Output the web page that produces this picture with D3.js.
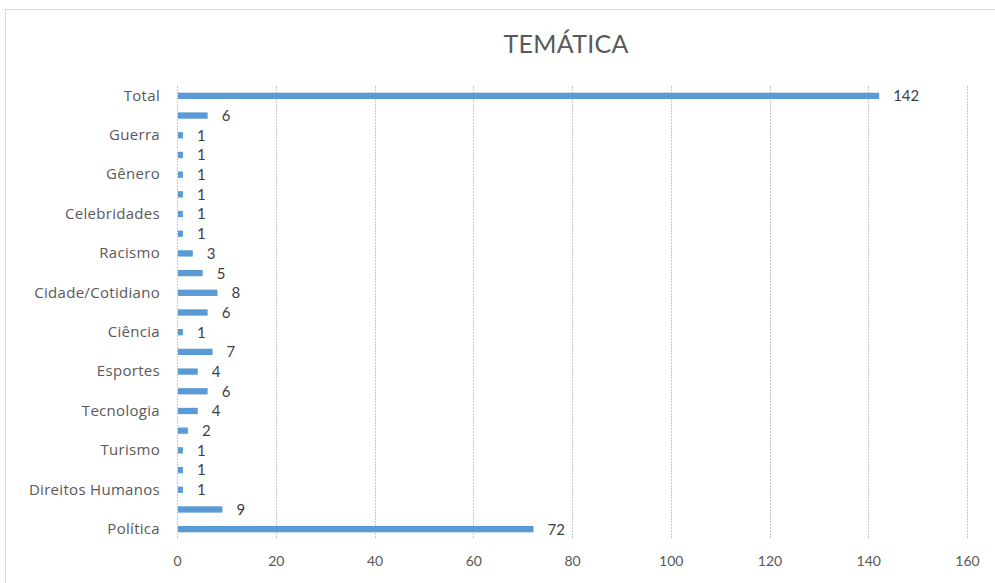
<!DOCTYPE html>
<html>
<head>
<meta charset="utf-8">
<script src="https://cdn.jsdelivr.net/npm/d3@7"></script>
<style>
  html, body { margin: 0; padding: 0; background: #fff; }
  svg { display: block; font-family: Lato, "Open Sans", sans-serif; }
</style>
</head>
<body>
<svg id="chart" width="995" height="583"></svg>
<script>
// Rows listed top to bottom; only every other category name is printed on the axis.
const categories = [
  "Total", "", "Guerra", "", "Gênero", "", "Celebridades", "", "Racismo", "",
  "Cidade/Cotidiano", "", "Ciência", "", "Esportes", "", "Tecnologia", "",
  "Turismo", "", "Direitos Humanos", "", "Política"
];
const values = [142, 6, 1, 1, 1, 1, 1, 1, 3, 5, 8, 6, 1, 7, 4, 6, 4, 2, 1, 1, 1, 9, 72];
const xTicks = [0, 20, 40, 60, 80, 100, 120, 140, 160];
const title = "TEMÁTICA";

const rows = categories.map((c, i) => ({ id: i, name: c, value: values[i] }));

const svg = d3.select("#chart");
const W = 995, H = 583;
const margin = { top: 86, right: 28, bottom: 44, left: 177 };
const plotW = 967 - margin.left;
const plotH = 539 - margin.top;

// Chart frame
svg.append("rect")
  .attr("x", 5.5).attr("y", 9.5)
  .attr("width", W - 4).attr("height", H)
  .attr("fill", "#fff").attr("stroke", "#d9d9d9").attr("stroke-width", 1);

svg.append("text")
  .attr("x", 566).attr("y", 53)
  .attr("text-anchor", "middle")
  .attr("font-size", 25)
  .attr("fill", "#595959")
  .attr("textLength", 125)
  .text(title);

const g = svg.append("g").attr("transform", `translate(${margin.left},${margin.top})`);

const x = d3.scaleLinear().domain([0, 160]).range([0, plotW]);
const y = d3.scaleBand().domain(rows.map(d => d.id)).range([0, plotH]).paddingInner(0.68).paddingOuter(0.34);

// Vertical dotted gridlines
g.append("g").selectAll("line")
  .data(xTicks)
  .join("line")
  .attr("x1", d => Math.round(x(d)) + 0.5).attr("x2", d => Math.round(x(d)) + 0.5)
  .attr("y1", 0).attr("y2", plotH)
  .attr("stroke", "#c8c8c8").attr("stroke-width", 1)
  .attr("stroke-dasharray", "2,1");

// X axis labels
const xAxis = d3.axisBottom(x).tickValues(xTicks).tickSize(0).tickPadding(17);
g.append("g")
  .attr("transform", `translate(0,${plotH})`)
  .call(xAxis)
  .call(a => a.select(".domain").remove())
  .call(a => a.selectAll("text").attr("font-size", 14).attr("fill", "#595959").attr("font-family", "Lato, 'Open Sans', sans-serif"));

// Y axis labels (names only where present)
const yAxis = d3.axisLeft(y).tickSize(0).tickPadding(17).tickFormat(i => categories[i]);
g.append("g")
  .call(yAxis)
  .call(a => a.select(".domain").remove())
  .call(a => a.selectAll("text")
    .attr("font-size", 15)
    .attr("fill", "#595959")
    .attr("font-family", "'Open Sans', Lato, sans-serif")
    .attr("letter-spacing", 0.3));

// Bars
g.append("g").selectAll("rect")
  .data(rows)
  .join("rect")
  .attr("x", x(0) + 1)
  .attr("y", d => y(d.id))
  .attr("width", d => Math.max(0, x(d.value) - x(0)))
  .attr("height", y.bandwidth())
  .attr("fill", "#5b9bd5");

// Value labels
g.append("g").selectAll("text")
  .data(rows)
  .join("text")
  .attr("x", d => x(d.value) + 15)
  .attr("y", d => y(d.id) + y.bandwidth() / 2)
  .attr("dy", "0.36em")
  .attr("font-size", 15)
  .attr("fill", "#404040")
  .text(d => d.value);
</script>
</body>
</html>
